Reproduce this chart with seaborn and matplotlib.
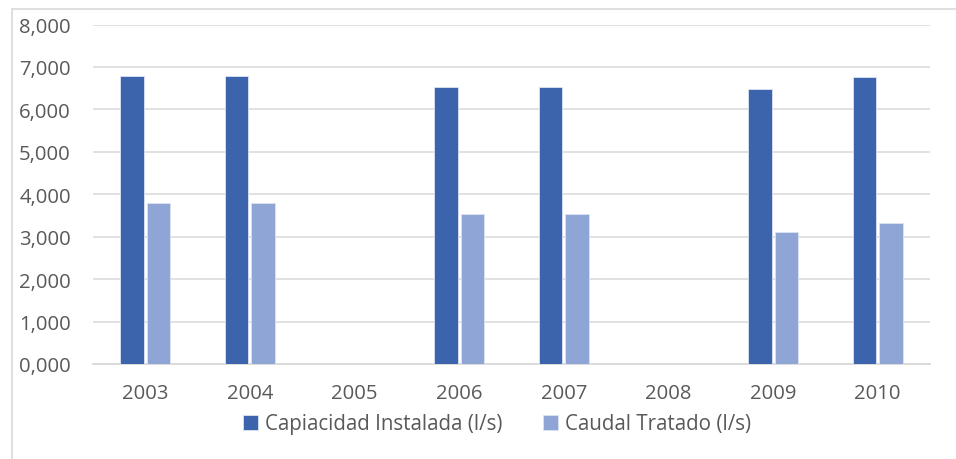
import numpy as np
import pandas as pd
import matplotlib
matplotlib.use("Agg")
import matplotlib.pyplot as plt
from matplotlib.lines import Line2D
from matplotlib.ticker import FuncFormatter
import seaborn as sns

# Plant data per year (thousands of l/s; blank years have no record)
years = ["2003", "2004", "2005", "2006", "2007", "2008", "2009", "2010"]
capacidad = [6.79, 6.79, np.nan, 6.53, 6.53, np.nan, 6.47, 6.76]
caudal = [3.79, 3.79, np.nan, 3.53, 3.53, np.nan, 3.11, 3.32]
series_names = ["Capiacidad Instalada (l/s)", "Caudal Tratado (l/s)"]
y_ticks = [0, 1, 2, 3, 4, 5, 6, 7, 8]

df = pd.DataFrame({
    "year": years * 2,
    "value": capacidad + caudal,
    "serie": [series_names[0]] * len(years) + [series_names[1]] * len(years),
})

sns.set_theme(style="white")
plt.rcParams["font.family"] = ["Open Sans", "DejaVu Sans"]

text_color = "#595959"
grid_color = "#D9D9D9"
palette = {series_names[0]: "#3C64AD", series_names[1]: "#8FA5D5"}

fig = plt.figure(figsize=(9.56, 4.60), dpi=100)
ax = fig.add_axes([93 / 956, 1 - 365 / 460, (930 - 93) / 956, (365 - 25.5) / 460])

sns.barplot(
    data=df, x="year", y="value", hue="serie", order=years,
    hue_order=series_names, palette=palette, width=0.507, gap=0.11,
    errorbar=None, ax=ax, edgecolor="#DCE4F2", linewidth=0.6,
    saturation=1, zorder=3,
)

ax.set_ylim(0, 8)
ax.set_xlim(-0.5, len(years) - 0.5)
ax.set_yticks(y_ticks)
ax.yaxis.set_major_formatter(FuncFormatter(lambda v, p: f"{v:.3f}".replace(".", ",")))
ax.grid(axis="y", color=grid_color, linewidth=1.1, zorder=0)
ax.set_axisbelow(True)
for side in ["left", "right", "top"]:
    ax.spines[side].set_visible(False)
ax.spines["bottom"].set_color(grid_color)
ax.spines["bottom"].set_linewidth(1.3)
ax.tick_params(axis="both", length=0, labelsize=14.6, labelcolor=text_color)
ax.tick_params(axis="x", pad=14)
ax.tick_params(axis="y", pad=16)
ax.set_xlabel("")
ax.set_ylabel("")

handles, labels = ax.get_legend_handles_labels()
ax.legend_.remove()
fig.legend(
    handles, labels, loc="center", bbox_to_anchor=(497 / 956, 1 - 425 / 460),
    ncol=2, frameon=False, fontsize=14.8, labelcolor=text_color,
    handlelength=0.7, handleheight=0.7, handletextpad=0.35, columnspacing=2.0,
)

# Chart area frame
fig.add_artist(Line2D([12 / 956, 1.0], [1 - 10 / 460] * 2, color=grid_color,
                      linewidth=1.2, transform=fig.transFigure))
fig.add_artist(Line2D([12 / 956] * 2, [0.0, 1 - 10 / 460], color=grid_color,
                      linewidth=1.2, transform=fig.transFigure))

fig.savefig("out.png", dpi=100, facecolor="white")
